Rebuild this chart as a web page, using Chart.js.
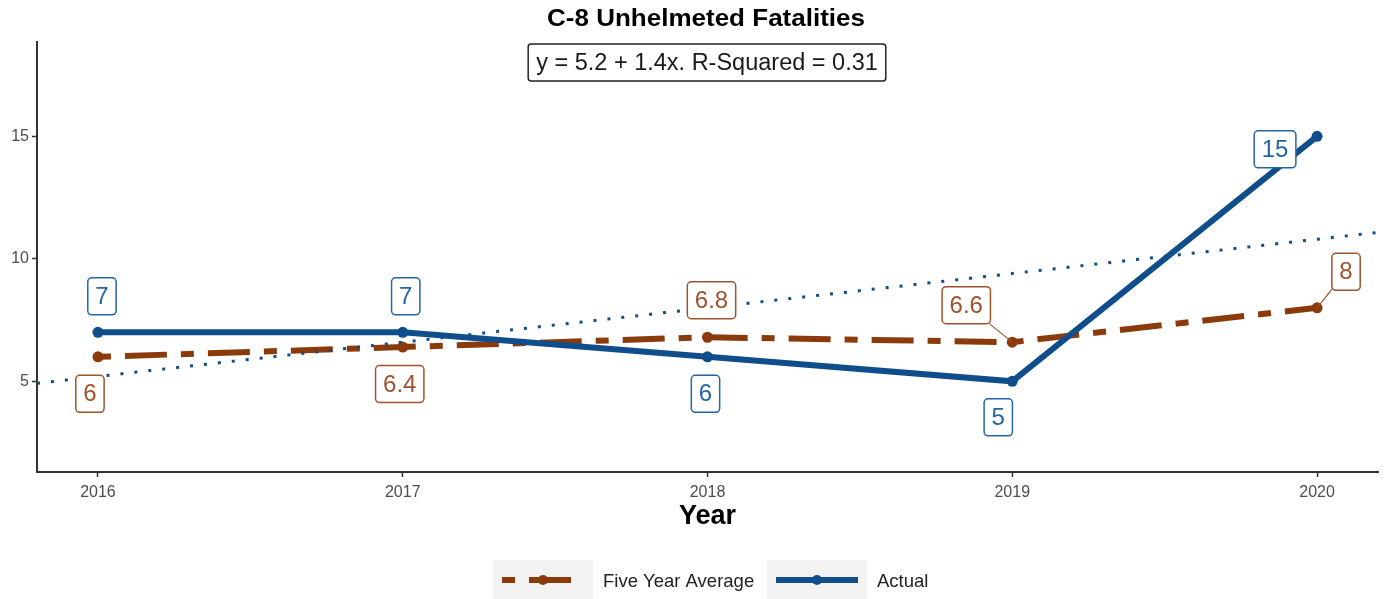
<!DOCTYPE html>
<html>
<head>
<meta charset="utf-8">
<script src="https://cdn.jsdelivr.net/npm/chart.js@4.4.0/dist/chart.umd.min.js"></script>
<style>
  html, body { margin: 0; padding: 0; background: #fff; }
  #wrap { width: 1390px; height: 599px; }
</style>
</head>
<body>
<div id="wrap"><canvas id="chart" width="1390" height="599"></canvas></div>
<script>
// data
const years = [2016, 2017, 2018, 2019, 2020];
const actual = [7, 7, 6, 5, 15];
const fiveYearAvg = [6, 6.4, 6.8, 6.6, 8];
const yTicks = [5, 10, 15];
const chartTitle = "C-8 Unhelmeted Fatalities";
const fitText = "y = 5.2 + 1.4x. R-Squared = 0.31";
const xTitle = "Year";
const seriesNames = ["Five Year Average", "Actual"];

const FONT = "'Liberation Sans', Arial, sans-serif";
const BLUE = "#104E8B";
const BROWN = "#8B3A0B";
const BLUE_LBL = "#2465a6";
const BROWN_LBL = "#a0522d";

// least squares line through the actual counts, x = 1..n
const fit = (() => {
  const n = actual.length;
  const xs = actual.map((_, i) => i + 1);
  const mx = xs.reduce((a, b) => a + b) / n;
  const my = actual.reduce((a, b) => a + b) / n;
  let sxy = 0, sxx = 0;
  xs.forEach((x, i) => { sxy += (x - mx) * (actual[i] - my); sxx += (x - mx) * (x - mx); });
  const slope = sxy / sxx;
  return { slope, intercept: my - slope * mx };
})();

const xMin = 2015.8, xMax = 2020.2;
const trendAt = (t) => fit.intercept + fit.slope * (t - years[0] + 1);

// label box placement (pixel offsets from the point), like ggrepel put them
const labelPlace = {
  actual: [[4, -36], [3, -36], [-2, 37], [-14, 36], [-42, 13]],
  avg: [[-8, 37], [-3, 37], [4, -37], [-46, -37], [29, -36]],
  avgLeader: [false, false, false, true, true]
};

const pts = (vals) => years.map((y, i) => ({ x: y, y: vals[i] }));

const drawLabels = {
  id: "drawLabels",
  afterDatasetsDraw(chart) {
    const ctx = chart.ctx;
    const xs = chart.scales.x, ys = chart.scales.y;
    const sets = [
      { vals: fiveYearAvg, off: labelPlace.avg, lead: labelPlace.avgLeader, col: BROWN_LBL },
      { vals: actual, off: labelPlace.actual, lead: [], col: BLUE_LBL }
    ];
    ctx.save();
    ctx.font = "24px " + FONT;
    ctx.textAlign = "center";
    ctx.textBaseline = "middle";
    sets.forEach(s => {
      s.vals.forEach((v, i) => {
        const px = xs.getPixelForValue(years[i]);
        const py = ys.getPixelForValue(v);
        const cx = px + s.off[i][0], cy = py + s.off[i][1];
        const txt = String(v);
        const w = ctx.measureText(txt).width + 15, h = 37;
        if (s.lead[i]) {
          // segment from point to box edge
          const dx = cx - px, dy = cy - py;
          const t = Math.min(Math.abs((w / 2) / (dx || 1e-6)), Math.abs((h / 2) / (dy || 1e-6)));
          ctx.strokeStyle = s.col;
          ctx.lineWidth = 1.2;
          ctx.beginPath();
          ctx.moveTo(px, py);
          ctx.lineTo(cx - dx * t, cy - dy * t);
          ctx.stroke();
        }
        ctx.fillStyle = "#fff";
        ctx.strokeStyle = s.col;
        ctx.lineWidth = 1.5;
        ctx.beginPath();
        ctx.roundRect(cx - w / 2, cy - h / 2, w, h, 4);
        ctx.fill();
        ctx.stroke();
        ctx.fillStyle = s.col;
        ctx.fillText(txt, cx, cy + 1);
      });
    });
    ctx.restore();
  },
  afterDraw(chart) {
    const ctx = chart.ctx;
    ctx.save();
    // title (the source render is a bit wide, so stretch it)
    ctx.fillStyle = "#000";
    ctx.textAlign = "center";
    ctx.textBaseline = "middle";
    ctx.font = "bold 23px " + FONT;
    const tw = ctx.measureText(chartTitle).width;
    ctx.save();
    ctx.translate(706, 20);
    ctx.scale(318 / tw, 1);
    ctx.fillText(chartTitle, 0, 0);
    ctx.restore();
    // fit annotation
    ctx.font = "23.5px " + FONT;
    const fw = ctx.measureText(fitText).width + 16;
    ctx.fillStyle = "#fff";
    ctx.strokeStyle = "#222";
    ctx.lineWidth = 1.5;
    ctx.beginPath();
    ctx.roundRect(707 - fw / 2, 44, fw, 37, 3);
    ctx.fill();
    ctx.stroke();
    ctx.fillStyle = "#1a1a1a";
    ctx.fillText(fitText, 707, 64);

    // legend
    const ds = chart.data.datasets;
    const keys = [
      { box: 493, d: ds[0], text: seriesNames[0], tx: 603 },
      { box: 767, d: ds[1], text: seriesNames[1], tx: 877 }
    ];
    keys.forEach(k => {
      ctx.fillStyle = "#f2f2f2";
      ctx.fillRect(k.box, 560, 100, 40);
      ctx.strokeStyle = k.d.borderColor;
      ctx.lineWidth = k.d.borderWidth;
      ctx.setLineDash(k.d.borderDash || []);
      ctx.beginPath();
      ctx.moveTo(k.box + 9, 580);
      ctx.lineTo(k.box + 91, 580);
      ctx.stroke();
      ctx.setLineDash([]);
      ctx.fillStyle = k.d.pointBackgroundColor;
      ctx.beginPath();
      ctx.arc(k.box + 50, 580, 5, 0, Math.PI * 2);
      ctx.fill();
      ctx.fillStyle = "#222";
      ctx.textAlign = "left";
      ctx.font = "18.5px " + FONT;
      ctx.fillText(k.text, k.tx, 582);
    });
    ctx.restore();
  }
};

new Chart(document.getElementById("chart"), {
  type: "line",
  data: {
    datasets: [
      {
        label: seriesNames[0],
        data: pts(fiveYearAvg),
        borderColor: BROWN,
        backgroundColor: BROWN,
        pointBackgroundColor: BROWN,
        borderWidth: 6,
        borderDash: [13, 14, 42, 14],
        borderCapStyle: "butt",
        pointRadius: 5.5,
        pointBorderWidth: 0,
        order: 2
      },
      {
        label: seriesNames[1],
        data: pts(actual),
        borderColor: BLUE,
        backgroundColor: BLUE,
        pointBackgroundColor: BLUE,
        borderWidth: 6,
        pointRadius: 5.5,
        pointBorderWidth: 0,
        order: 1
      },
      {
        label: "trend",
        data: [{ x: xMin, y: trendAt(xMin) }, { x: xMax, y: trendAt(xMax) }],
        borderColor: BLUE,
        borderWidth: 3,
        borderDash: [3, 11],
        pointRadius: 0,
        order: 0
      }
    ]
  },
  options: {
    responsive: false,
    animation: false,
    devicePixelRatio: 1,
    layout: { padding: { top: 42, right: 12, left: 0, bottom: 66 } },
    plugins: { legend: { display: false }, tooltip: { enabled: false } },
    scales: {
      x: {
        type: "linear",
        min: xMin,
        max: xMax,
        afterFit(s) { s.height = 61; },
        afterBuildTicks(s) { s.ticks = years.map(v => ({ value: v })); },
        grid: { display: true, drawOnChartArea: false, tickLength: 5, tickColor: "#333", tickWidth: 1.5 },
        border: { display: true, color: "#333", width: 2 },
        ticks: { color: "#4d4d4d", font: { family: FONT, size: 16 }, padding: 6, callback: v => String(v) },
        title: { display: true, text: xTitle, color: "#000", font: { family: FONT, size: 27, weight: "bold" }, padding: { top: 0, bottom: 0 } }
      },
      y: {
        min: 1.3,
        max: 18.85,
        afterFit(s) { s.width = 37; },
        afterBuildTicks(s) { s.ticks = yTicks.map(v => ({ value: v })); },
        grid: { display: true, drawOnChartArea: false, tickLength: 5, tickColor: "#333", tickWidth: 1.5 },
        border: { display: true, color: "#333", width: 2 },
        ticks: { color: "#4d4d4d", font: { family: FONT, size: 16 }, padding: 3 }
      }
    }
  },
  plugins: [drawLabels]
});
</script>
</body>
</html>
